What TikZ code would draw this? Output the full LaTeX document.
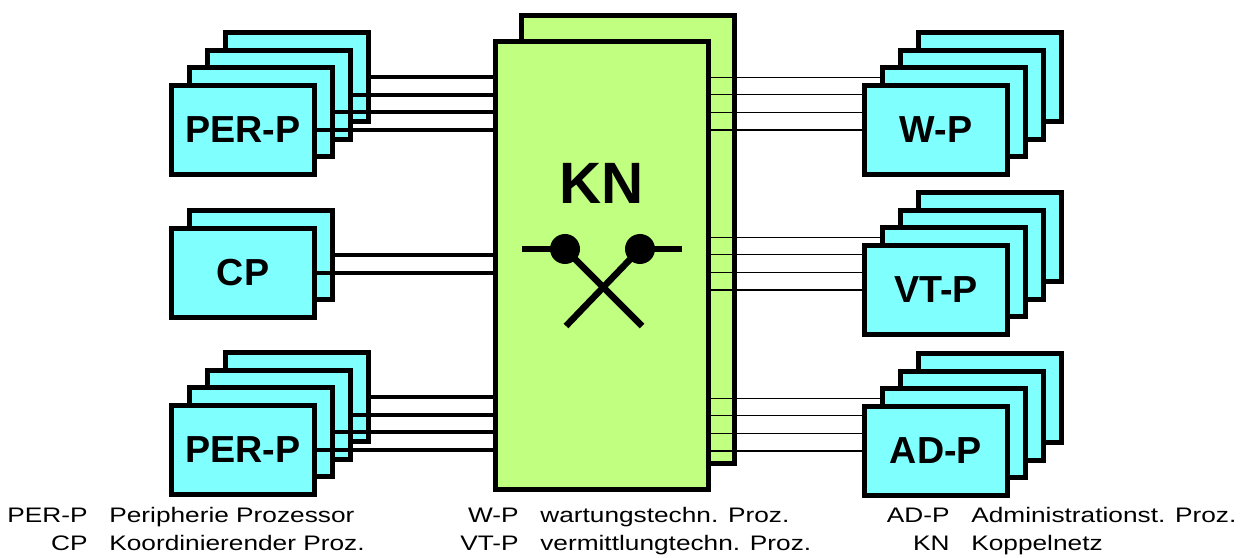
\documentclass[tikz,border=0pt]{standalone}
\usepackage{fontspec}
\setmainfont{Liberation Sans}
\newfontfamily\legendfont[FakeStretch=1.25]{Liberation Sans}
\usetikzlibrary{positioning, calc, backgrounds}
\definecolor{procfill}{RGB}{128,255,255}
\definecolor{knfill}{RGB}{192,255,128}

\begin{document}
\begin{tikzpicture}[
  x=0.6pt, y=-0.6pt,
  proc/.style={draw, line width=3pt, fill=procfill, minimum width=85.4pt, minimum height=53.4pt,
               inner sep=0pt, font=\fontsize{22.6}{24}\selectfont\bfseries},
  knbox/.style={draw, line width=3pt, fill=knfill, minimum width=127.8pt, minimum height=268.8pt,
                inner sep=0pt},
  bus/.style={line width=2.4pt},
  wire/.style={line width=0.7pt},
  contact/.style={circle, fill=black, minimum size=18pt, inner sep=0pt},
  swline/.style={line width=3.9pt},
  abbr/.style={anchor=base east, inner sep=0pt, font=\legendfont\fontsize{12.6}{14}\selectfont},
  desc/.style={inner sep=0pt, font=\legendfont\fontsize{12.6}{14}\selectfont},
]
\useasboundingbox (0,0) rectangle (1247,558);

% --- Koppelnetz ---
\begin{scope}[on background layer]
  \node[knbox] (knback) at (628,239.5) {};
  \node[knbox] (kn) at (602,265.5) {};
\end{scope}
\node[font=\fontsize{35}{36}\selectfont\bfseries] (knlabel) at (602,183) {KN};

% --- switch symbol ---
\node[contact] (c1) at (565,249) {};
\node[contact] (c2) at (640,249) {};
\coordinate (c1in) at (522,249);
\coordinate (c2out) at (682,249);
\coordinate (c1end) at (642,326);
\coordinate (c2end) at (566,326);
\draw[swline] (c1in) -- (c1.center);
\draw[swline] (c2.center) -- (c2out);
\draw[swline] (c1.center) -- (c1end);
\draw[swline] (c2.center) -- (c2end);

% --- left: PER-P (top) ---
\foreach \k in {3,2,1} {
  \node[proc] (perA\k) at ($(243,130)+\k*(18,-17.6)$) {};
  \draw[bus] (perA\k.east) -- (perA\k.east -| kn.west);
}
\node[proc] (perA0) at (243,130) {PER-P};
\draw[bus] (perA0.east) -- (perA0.east -| kn.west);

% --- left: CP ---
\node[proc] (cp1) at ($(243,273)+(18,-17.6)$) {};
\draw[bus] (cp1.east) -- (cp1.east -| kn.west);
\node[proc] (cp0) at (243,273) {CP};
\draw[bus] (cp0.east) -- (cp0.east -| kn.west);

% --- left: PER-P (bottom) ---
\foreach \k in {3,2,1} {
  \node[proc] (perB\k) at ($(243,450)+\k*(18,-17.6)$) {};
  \draw[bus] (perB\k.east) -- (perB\k.east -| kn.west);
}
\node[proc] (perB0) at (243,450) {PER-P};
\draw[bus] (perB0.east) -- (perB0.east -| kn.west);

% --- right: W-P, VT-P, AD-P ---
\foreach \k in {3,2,1} {
  \node[proc] (wp\k) at ($(936,130)+\k*(18,-17.6)$) {};
  \node[proc] (vt\k) at ($(936,290)+\k*(18,-17.6)$) {};
  \node[proc] (ad\k) at ($(936,451)+\k*(18,-17.6)$) {};
}
\node[proc] (wp0) at (936,130) {W-P};
\node[proc] (vt0) at (936,290) {VT-P};
\node[proc] (ad0) at (936,451) {AD-P};

\begin{scope}[on background layer]
  \foreach \s in {wp,vt,ad}
    \foreach \k in {0,...,3}
      \draw[wire] (kn.east |- \s\k.west) -- (\s\k.west);
\end{scope}

% --- legend ---
\foreach \x/\y/\ab/\de [count=\i] in {88/522/PER-P/Peripherie Prozessor,
    88/550/CP/Koordinierender Proz., 519/522/W-P/wartungstechn. Proz.,
    519/550/VT-P/vermittlungtechn. Proz., 950/522/AD-P/Administrationst. Proz.,
    950/550/KN/Koppelnetz} {
  \node[abbr] (ab\i) at (\x,\y) {\ab};
  \node[desc, base right=12.6pt of ab\i] (de\i) {\de};
}
\end{tikzpicture}
\end{document}
